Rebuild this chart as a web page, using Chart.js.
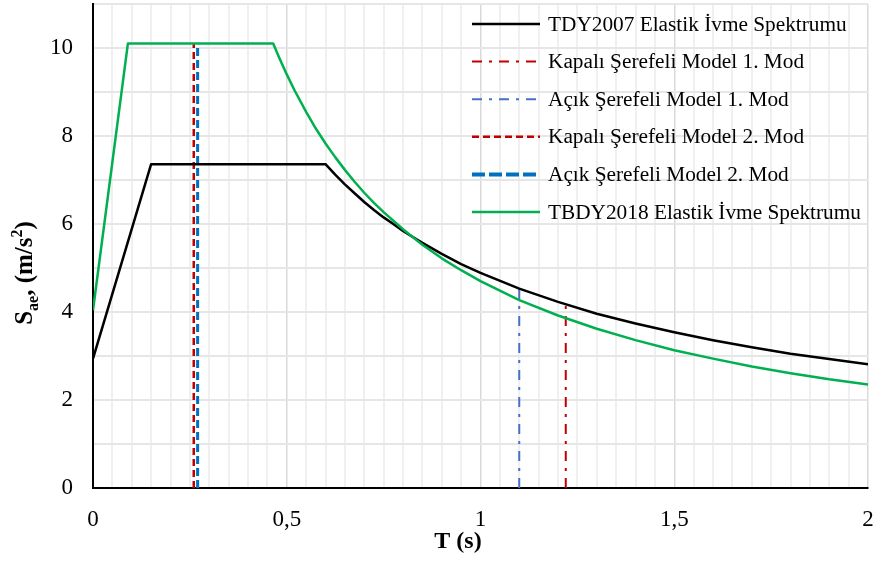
<!DOCTYPE html>
<html>
<head>
<meta charset="utf-8">
<script src="https://cdn.jsdelivr.net/npm/chart.js@4.4.1/dist/chart.umd.min.js"></script>
<style>
  html, body { margin: 0; padding: 0; background: #fff; }
  #wrap { width: 877px; height: 572px; }
</style>
</head>
<body>
<div id="wrap"><canvas id="spec" width="877" height="572"></canvas></div>
<script>
// TDY2007 elastic spectrum
const tdyT   = [0, 0.15, 0.6, 0.625, 0.65, 0.675, 0.7, 0.725, 0.75, 0.775, 0.8, 0.85, 0.9, 0.95, 1.0, 1.1, 1.2, 1.3, 1.4, 1.5, 1.6, 1.7, 1.8, 1.9, 2.0];
const tdySae = [2.94, 7.36, 7.36, 7.12, 6.90, 6.70, 6.50, 6.32, 6.15, 6.00, 5.84, 5.57, 5.32, 5.09, 4.89, 4.53, 4.23, 3.96, 3.74, 3.54, 3.36, 3.20, 3.05, 2.93, 2.81];

// TBDY2018 elastic spectrum
const tbdyT   = [0, 0.09, 0.465, 0.48, 0.5, 0.52, 0.55, 0.575, 0.6, 0.625, 0.65, 0.675, 0.7, 0.725, 0.75, 0.8, 0.85, 0.9, 0.95, 1.0, 1.1, 1.2, 1.3, 1.4, 1.5, 1.6, 1.7, 1.8, 1.9, 2.0];
const tbdySae = [4.04, 10.1, 10.1, 9.79, 9.40, 9.04, 8.55, 8.17, 7.83, 7.52, 7.23, 6.96, 6.71, 6.48, 6.27, 5.88, 5.53, 5.22, 4.95, 4.70, 4.27, 3.92, 3.62, 3.36, 3.13, 2.94, 2.76, 2.61, 2.47, 2.35];

// modal periods of the two minaret models, and the spectrum value where each line stops
const modeLabels  = ['Kapalı Şerefeli Model 1. Mod', 'Açık Şerefeli Model 1. Mod', 'Kapalı Şerefeli Model 2. Mod', 'Açık Şerefeli Model 2. Mod'];
const modePeriods = [1.22, 1.10, 0.26, 0.27];
const modeTops    = [4.19, 4.53, 10.1, 10.1];

const xTickLabels = ['0', '0,5', '1', '1,5', '2'];
const yTickLabels = ['0', '2', '4', '6', '8', '10'];

const FONT = "'Liberation Serif', 'Times New Roman', serif";

const pts = (xs, ys) => xs.map((x, i) => ({x, y: ys[i]}));
const vline = i => [{x: modePeriods[i], y: 0}, {x: modePeriods[i], y: modeTops[i]}];

const datasets = [
  {label:'TDY2007 Elastik İvme Spektrumu', data:pts(tdyT, tdySae), borderColor:'#000000', borderWidth:2.5, order:1},
  {label:modeLabels[0], data:vline(0), borderColor:'#c00000', borderWidth:2, borderDash:[10,7,3,7], order:2},
  {label:modeLabels[1], data:vline(1), borderColor:'#4472c4', borderWidth:2, borderDash:[10,7,3,7], order:3},
  {label:modeLabels[2], data:vline(2), borderColor:'#c00000', borderWidth:2.5, borderDash:[7,4], order:4},
  {label:modeLabels[3], data:vline(3), borderColor:'#0070c0', borderWidth:3, borderDash:[8,4], order:5},
  {label:'TBDY2018 Elastik İvme Spektrumu', data:pts(tbdyT, tbdySae), borderColor:'#00b050', borderWidth:2.5, order:0}
];
datasets.forEach(d => { d.showLine = true; d.pointRadius = 0; d.fill = false; d.tension = 0; d.borderJoinStyle = 'round'; });

const legendInside = {
  id: 'legendInside',
  afterDatasetsDraw(chart) {
    const ctx = chart.ctx;
    ctx.save();
    ctx.font = '21.3px ' + FONT;
    ctx.textBaseline = 'middle';
    ctx.fillStyle = '#000';
    chart.data.datasets.forEach((ds, i) => {
      const y = 24 + i * 37.6;
      ctx.beginPath();
      ctx.strokeStyle = ds.borderColor;
      ctx.lineWidth = i === 4 ? 4 : ds.borderWidth;
      ctx.setLineDash(i === 4 ? [13, 4] : (ds.borderDash || []));
      ctx.moveTo(472, y);
      ctx.lineTo(540, y);
      ctx.stroke();
      ctx.setLineDash([]);
      ctx.fillText(ds.label, 548, y + 1);
    });
    ctx.restore();
  }
};

const axisTitles = {
  id: 'axisTitles',
  afterDraw(chart) {
    const ctx = chart.ctx;
    ctx.save();
    ctx.fillStyle = '#000';
    ctx.textBaseline = 'middle';
    ctx.textAlign = 'center';
    ctx.font = 'bold 24px ' + FONT;
    ctx.fillText('T (s)', 458, 542);

    // y title: S_ae, (m/s^2)
    const big = 'bold 25px ' + FONT, small = 'bold 16px ' + FONT;
    const parts = [['S', big, 0], ['ae', small, 6], [', (m/s', big, 0], ['2', small, -10], [')', big, 0]];
    ctx.translate(24, 273);
    ctx.rotate(-Math.PI / 2);
    ctx.textAlign = 'left';
    ctx.textBaseline = 'alphabetic';
    let w = 0;
    parts.forEach(p => { ctx.font = p[1]; w += ctx.measureText(p[0]).width; });
    let x = -w / 2;
    parts.forEach(p => {
      ctx.font = p[1];
      ctx.fillText(p[0], x, 8 + p[2]);
      x += ctx.measureText(p[0]).width;
    });
    ctx.restore();
  }
};

const noPad = s => { s.paddingTop = 0; s.paddingBottom = 0; s.paddingLeft = 0; s.paddingRight = 0; };

new Chart(document.getElementById('spec'), {
  type: 'scatter',
  data: {datasets},
  plugins: [legendInside, axisTitles],
  options: {
    responsive: false,
    animation: false,
    devicePixelRatio: 1,
    layout: {padding: {top: 4, right: 9, left: 0, bottom: 0}},
    plugins: {legend: {display: false}, tooltip: {enabled: false}},
    scales: {
      x: {
        type: 'linear', min: 0, max: 2,
        afterFit: s => { s.height = 84; noPad(s); },
        border: {display: true, color: '#000', width: 2},
        grid: {
          drawTicks: false,
          color: c => (Math.round(c.tick.value * 100) % 50 === 0 ? '#d9d9d9' : '#f0f0f0'),
          lineWidth: c => (Math.round(c.tick.value * 100) % 50 === 0 ? 1.5 : 2)
        },
        ticks: {
          stepSize: 0.05, autoSkip: false, maxRotation: 0, maxTicksLimit: 100, padding: 18,
          color: '#000', font: {family: FONT, size: 23},
          callback: v => {
            const k = Math.round(v * 100);
            return k % 50 === 0 ? xTickLabels[k / 50] : '';
          }
        }
      },
      y: {
        min: 0, max: 11,
        afterFit: s => { s.width = 93; noPad(s); },
        border: {display: true, color: '#000', width: 2},
        grid: {drawTicks: false, color: '#e6e6e6', lineWidth: 2},
        ticks: {
          stepSize: 1, padding: 20, color: '#000', font: {family: FONT, size: 23},
          callback: v => (v % 2 === 0 ? yTickLabels[v / 2] : '')
        }
      }
    }
  }
});
</script>
</body>
</html>
